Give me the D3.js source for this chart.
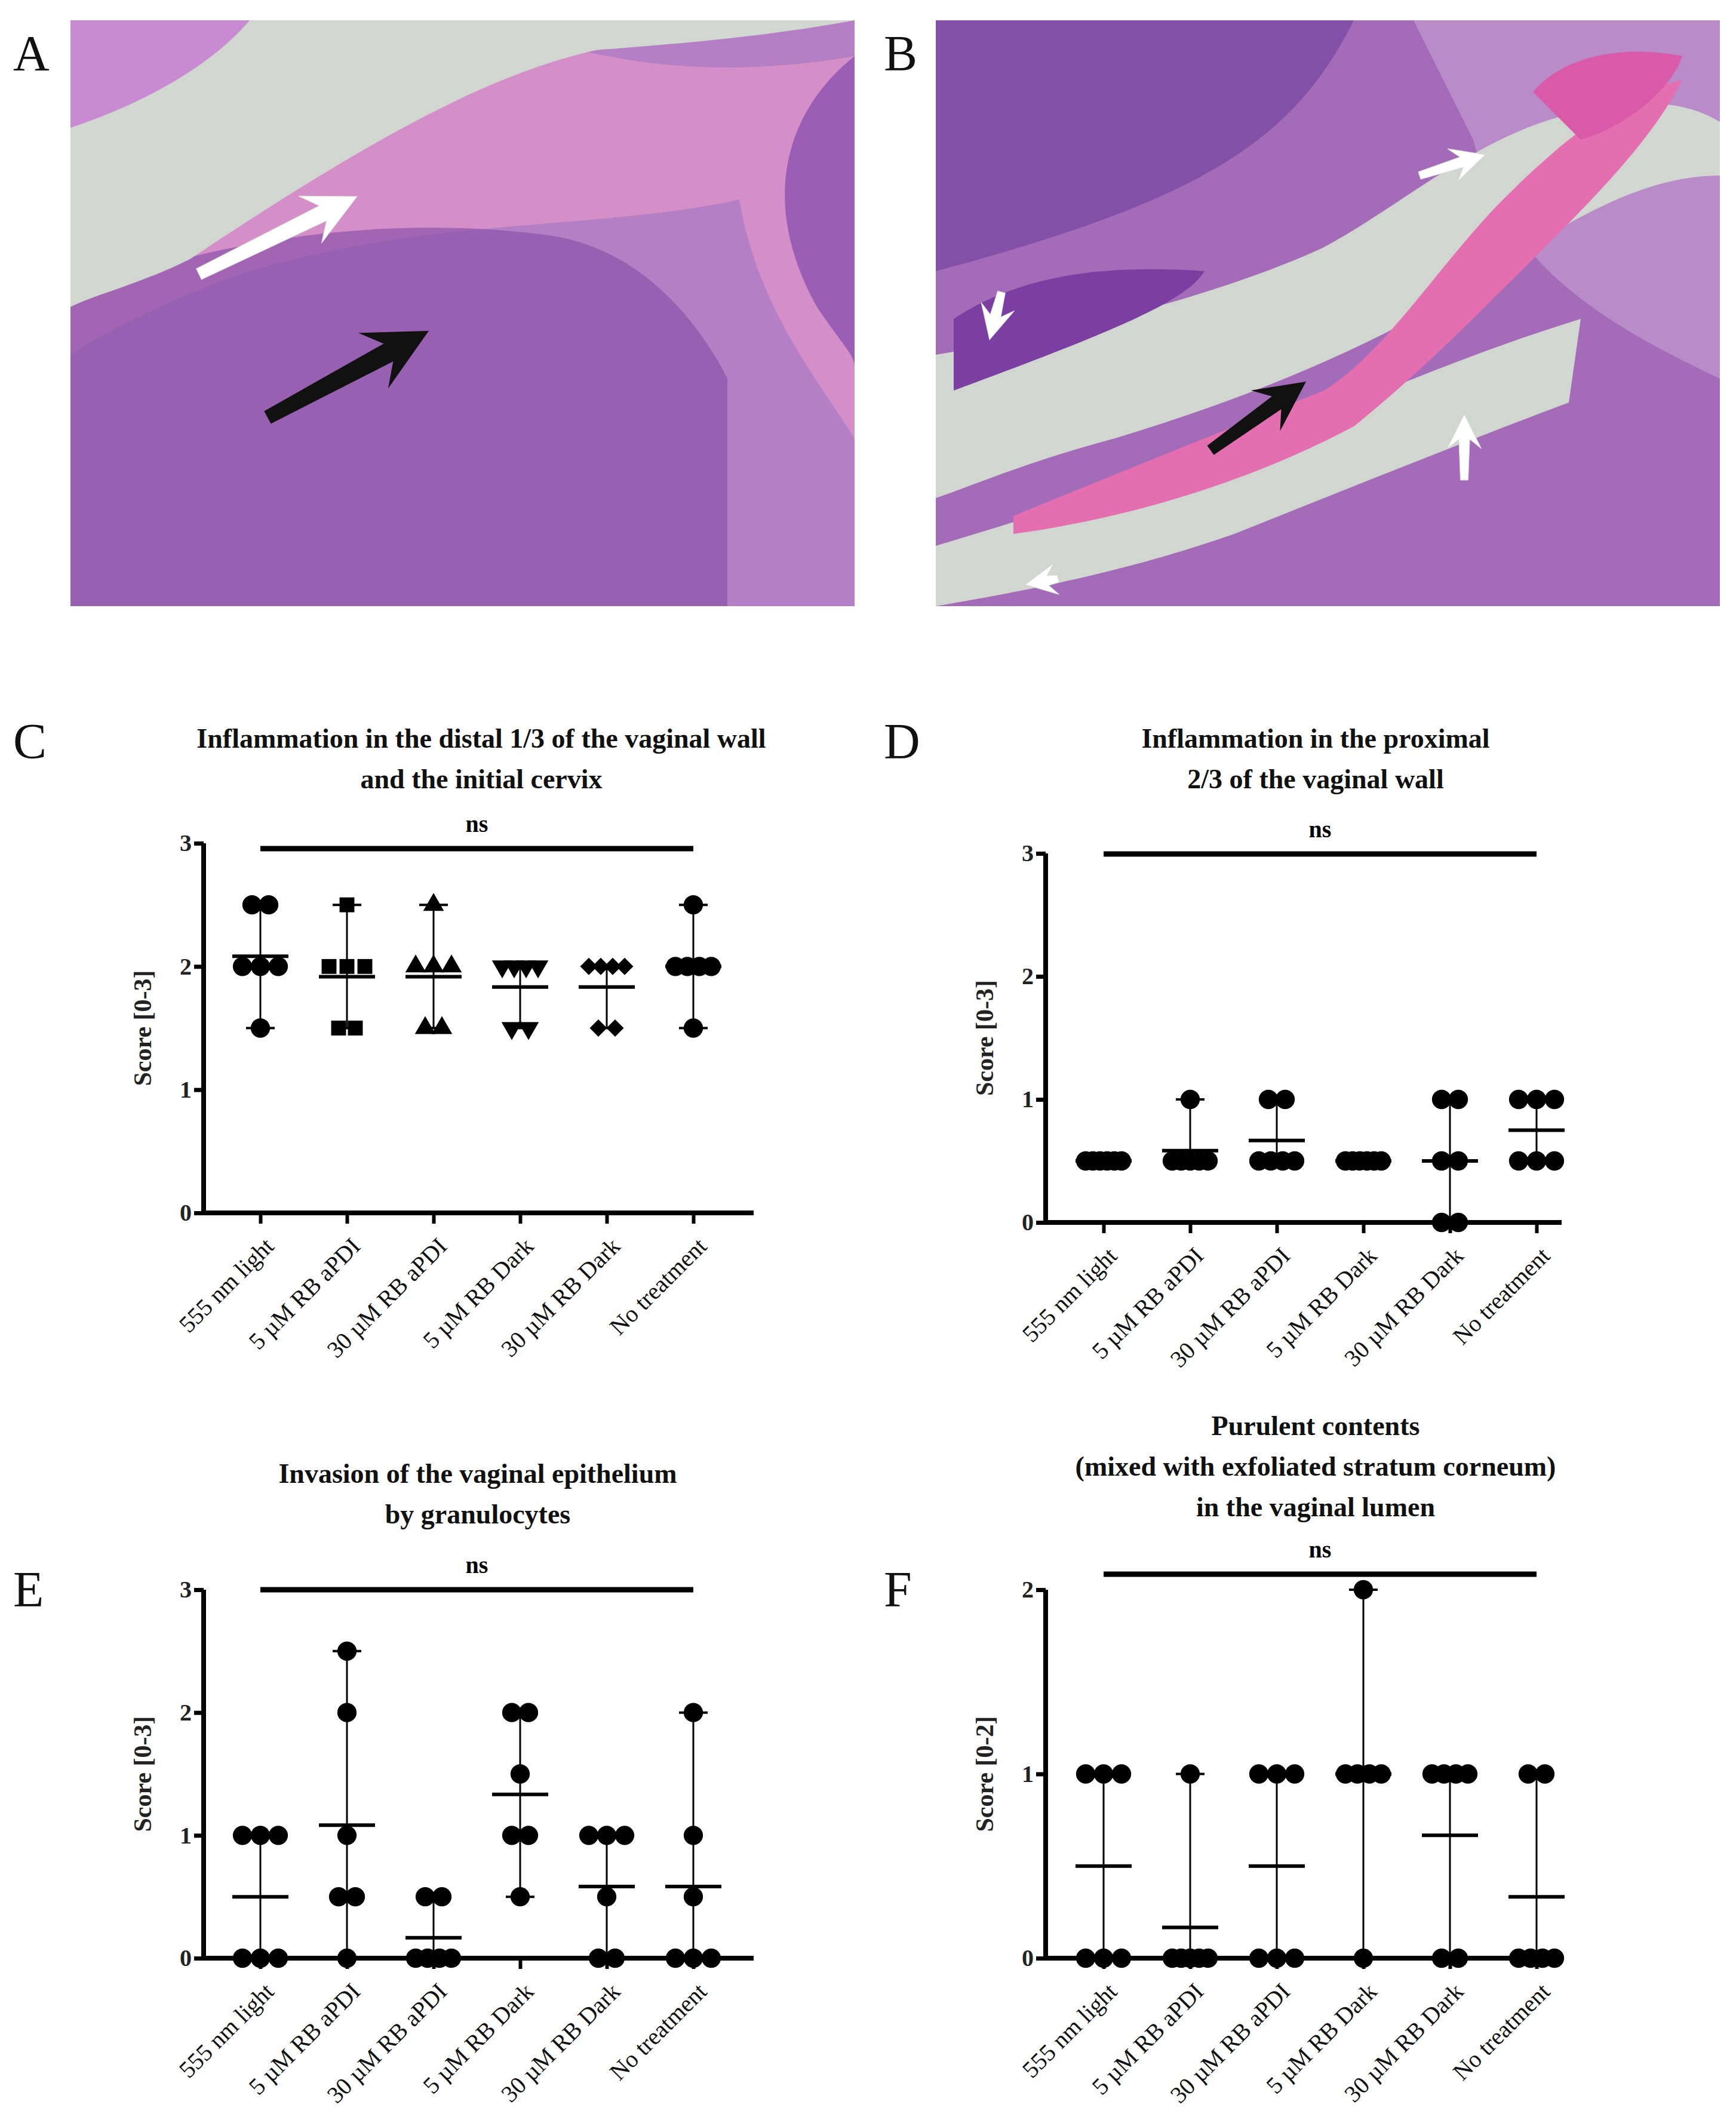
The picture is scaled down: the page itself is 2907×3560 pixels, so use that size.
<!DOCTYPE html>
<html><head><meta charset="utf-8">
<script src="https://cdn.jsdelivr.net/npm/d3@7"></script>
<style>body{margin:0;background:#fff}svg{display:block}</style>
</head><body>
<svg id="fig" width="2907" height="3560"></svg>
<script>
// Data
const groups = ["555 nm light", "5 µM RB aPDI", "30 µM RB aPDI", "5 µM RB Dark", "30 µM RB Dark", "No treatment"];
const shapesC = ["circle", "square", "triangle", "triangleDown", "diamond", "circle"];

const scoresC = [
  [2.5, 2.5, 2, 2, 2, 1.5],
  [2.5, 2, 2, 2, 1.5, 1.5],
  [2.5, 2, 2, 2, 1.5, 1.5],
  [2, 2, 2, 2, 1.5, 1.5],
  [2, 2, 2, 2, 1.5, 1.5],
  [2.5, 2, 2, 2, 2, 1.5]
];
const scoresD = [
  [0.5, 0.5, 0.5, 0.5, 0.5, 0.5],
  [1, 0.5, 0.5, 0.5, 0.5, 0.5],
  [1, 1, 0.5, 0.5, 0.5, 0.5],
  [0.5, 0.5, 0.5, 0.5, 0.5, 0.5],
  [1, 1, 0.5, 0.5, 0, 0],
  [1, 1, 1, 0.5, 0.5, 0.5]
];
const scoresE = [
  [1, 1, 1, 0, 0, 0],
  [2.5, 2, 1, 0.5, 0.5, 0],
  [0.5, 0.5, 0, 0, 0, 0],
  [2, 2, 1.5, 1, 1, 0.5],
  [1, 1, 1, 0.5, 0, 0],
  [2, 1, 0.5, 0, 0, 0]
];
const scoresF = [
  [1, 1, 1, 0, 0, 0],
  [1, 0, 0, 0, 0, 0],
  [1, 1, 1, 0, 0, 0],
  [2, 1, 1, 1, 1, 0],
  [1, 1, 1, 1, 0, 0],
  [1, 1, 0, 0, 0, 0]
];

const svg = d3.select("#fig");
const serif = "'Liberation Serif', 'DejaVu Serif', serif";

// ---- photo panels (drawn approximations) ----
function photo(x, y, w, h, id, draw) {
  const g = svg.append("g").attr("transform", `translate(${x},${y})`);
  g.append("clipPath").attr("id", id).append("rect").attr("width", w).attr("height", h);
  const c = g.append("g").attr("clip-path", `url(#${id})`);
  draw(c, w, h);
}
function arrow(g, x1, y1, x2, y2, fill, s) {
  const a = Math.atan2(y2 - y1, x2 - x1) * 180 / Math.PI;
  const L = Math.hypot(x2 - x1, y2 - y1);
  g.append("path")
    .attr("d", `M0,${-s*0.25} L${L - s*1.6},${-s*0.35} L${L - s*2.2},${-s*1.1} L${L},0 L${L - s*2.2},${s*1.1} L${L - s*1.6},${s*0.35} L0,${s*0.25}Z`)
    .attr("fill", fill).attr("stroke", fill === "#fff" ? "#ddd" : "none")
    .attr("transform", `translate(${x1},${y1}) rotate(${a})`);
}

photo(118, 34, 1313, 981, "cpA", (c, w, h) => {
  c.append("rect").attr("width", w).attr("height", h).attr("fill", "#a46bb8");
  c.append("path").attr("d", `M0,0 L${w},0 L${w},${h} L0,${h}Z`).attr("fill", "#b47fc4");
  c.append("path").attr("d", "M0,140 C200,60 500,-20 900,60 C1050,90 1200,80 1313,60 L1313,700 C1250,600 1150,480 1120,300 C900,350 600,330 300,420 C180,460 60,520 0,560Z").attr("fill", "#d58fc8");
  c.append("path").attr("d", "M0,460 C200,380 500,320 800,360 C950,380 1050,500 1100,600 L1100,981 L0,981Z").attr("fill", "#8a52aa").attr("opacity", 0.7);
  c.append("path").attr("d", "M0,0 L1313,0 L1313,0 C1150,30 1000,40 880,50 C700,90 500,200 200,400 C120,440 40,460 0,480Z").attr("fill", "#d2d6d1");
  c.append("path").attr("d", "M0,0 L300,0 C250,60 150,130 0,180Z").attr("fill", "#c88ad0");
  c.append("path").attr("d", "M1313,60 C1200,150 1150,300 1250,480 C1290,540 1313,560 1313,580Z").attr("fill", "#9a5fb4");
  arrow(c, 215, 425, 480, 295, "#fff", 40);
  arrow(c, 330, 665, 600, 520, "#111", 48);
});
photo(1567, 34, 1313, 981, "cpB", (c, w, h) => {
  c.append("rect").attr("width", w).attr("height", h).attr("fill", "#a46bb8");
  c.append("path").attr("d", "M0,0 L700,0 C600,200 450,300 0,420Z").attr("fill", "#8250a6");
  c.append("path").attr("d", "M800,0 L1313,0 L1313,600 C1100,500 950,400 900,200Z").attr("fill", "#b98bc8");
  c.append("path").attr("d", "M0,560 C250,520 500,450 650,380 C780,310 900,200 1050,160 C1150,130 1250,130 1313,170 L1313,260 C1150,260 1000,380 850,470 C700,560 500,640 300,700 C150,740 60,780 0,800Z").attr("fill", "#d2d6d1");
  c.append("path").attr("d", "M0,880 C200,820 450,740 700,640 C850,580 950,540 1080,500 L1060,640 C900,700 700,780 500,860 C300,930 120,960 0,981Z").attr("fill", "#d2d6d1");
  c.append("path").attr("d", "M130,830 C300,760 500,680 650,620 C750,560 850,400 950,300 C1050,200 1150,120 1250,100 C1200,200 1100,300 1000,400 C900,500 800,600 700,680 C550,760 350,830 130,860Z").attr("fill", "#e46fb0");
  c.append("path").attr("d", "M1000,120 C1050,60 1150,40 1250,60 C1230,120 1150,180 1080,200Z").attr("fill", "#d85aa8");
  c.append("path").attr("d", "M30,500 C150,420 300,410 450,420 C420,470 300,520 30,620Z").attr("fill", "#7b3fa2");
  arrow(c, 810, 260, 920, 225, "#fff", 26);
  arrow(c, 110, 455, 90, 535, "#fff", 26);
  arrow(c, 885, 770, 885, 660, "#fff", 26);
  arrow(c, 205, 935, 150, 945, "#fff", 24);
  arrow(c, 460, 720, 620, 605, "#111", 38);
});

// panel letters
const letters = [["A", 22, 118], ["B", 1480, 118], ["C", 22, 1270], ["D", 1480, 1270], ["E", 22, 2690], ["F", 1480, 2690]];
svg.selectAll("text.letter").data(letters).join("text").attr("class", "letter")
  .attr("x", d => d[1]).attr("y", d => d[2]).text(d => d[0])
  .attr("font-family", serif).attr("font-size", 84).attr("fill", "#111");

// ---- scatter charts ----
const symbolSize = { circle: 820, square: 620, triangle: 520, triangleDown: 520, diamond: 420 };
const symbolRot = { diamond: 45, triangleDown: 180 };
function symbolFor(name) {
  return { circle: d3.symbolCircle, square: d3.symbolSquare, triangle: d3.symbolTriangle,
    triangleDown: d3.symbolTriangle, diamond: d3.symbolSquare }[name];
}

function drawChart(cfg) {
  const g = svg.append("g");
  const x = d3.scalePoint().domain(groups).range([cfg.x0, cfg.x1]);
  const y = d3.scaleLinear().domain([0, cfg.yMax]).range([cfg.yBottom, cfg.yTop]);

  cfg.title.forEach((t, i) => g.append("text").attr("x", cfg.titleX).attr("y", cfg.titleY + i * 68)
    .attr("text-anchor", "middle").attr("font-family", serif).attr("font-weight", "bold")
    .attr("font-size", 46).attr("fill", "#111").text(t));

  // y axis
  const ya = g.append("g").attr("transform", `translate(${cfg.axisX},0)`)
    .call(d3.axisLeft(y).ticks(cfg.yMax).tickFormat(d3.format("d")).tickSize(16).tickPadding(4));
  ya.select(".domain").attr("stroke-width", 8).attr("d", `M0,${cfg.yBottom + 4}V${cfg.yTop}`);
  ya.selectAll(".tick line").attr("stroke-width", 7);
  ya.selectAll("text").attr("font-family", serif).attr("font-weight", "bold").attr("font-size", 40).attr("fill", "#222");

  // x axis
  const xa = g.append("g").attr("transform", `translate(0,${cfg.yBottom})`)
    .call(d3.axisBottom(x).tickSize(18).tickPadding(10));
  xa.select(".domain").attr("stroke-width", 8).attr("d", `M${cfg.axisX - 4},0H${cfg.xEnd}`);
  xa.selectAll(".tick line").attr("stroke-width", 6);
  xa.selectAll("text").attr("font-family", serif).attr("font-size", 40).attr("fill", "#111")
    .attr("text-anchor", "end").attr("dy", "0.3em").attr("transform", "translate(-4,30) rotate(-45)");

  g.append("text").attr("transform", `translate(${cfg.axisX - 88},${(cfg.yTop + cfg.yBottom) / 2}) rotate(-90)`)
    .attr("text-anchor", "middle").attr("font-family", serif).attr("font-weight", "bold")
    .attr("font-size", 42).attr("fill", "#222").text(cfg.yLabel);

  // significance bar
  g.append("line").attr("x1", x(groups[0])).attr("x2", x(groups[5]))
    .attr("y1", cfg.sigY).attr("y2", cfg.sigY).attr("stroke", "#000").attr("stroke-width", 9);
  g.append("text").attr("x", (x(groups[0]) + x(groups[5])) / 2).attr("y", cfg.sigY - 28)
    .attr("text-anchor", "middle").attr("font-family", serif).attr("font-weight", "bold")
    .attr("font-size", 40).text("ns");

  cfg.data.forEach((vals, i) => {
    const cx = x(groups[i]);
    const mean = d3.mean(vals), lo = d3.min(vals), hi = d3.max(vals);
    // range bar + caps
    g.append("line").attr("x1", cx).attr("x2", cx).attr("y1", y(lo)).attr("y2", y(hi))
      .attr("stroke", "#000").attr("stroke-width", 3);
    [lo, hi].forEach(v => g.append("line").attr("x1", cx - 24).attr("x2", cx + 24)
      .attr("y1", y(v)).attr("y2", y(v)).attr("stroke", "#000").attr("stroke-width", 4));
    // points, spread horizontally by tied values
    const counts = d3.rollup(vals, v => v.length, d => d);
    const seen = new Map();
    const shape = cfg.shapes[i];
    const sym = d3.symbol().type(symbolFor(shape)).size(symbolSize[shape]);
    vals.forEach(v => {
      const n = counts.get(v), k = seen.get(v) || 0;
      seen.set(v, k + 1);
      const step = n >= 3 ? 60 / (n - 1) : 28;
      const px = cx + (k - (n - 1) / 2) * step;
      g.append("path").attr("d", sym)
        .attr("transform", `translate(${px},${y(v)}) rotate(${symbolRot[shape] || 0})`)
        .attr("fill", "#000");
    });
    // mean line
    g.append("line").attr("x1", cx - 47).attr("x2", cx + 47).attr("y1", y(mean)).attr("y2", y(mean))
      .attr("stroke", "#000").attr("stroke-width", 6);
  });
}

drawChart({ data: scoresC, shapes: shapesC, yMax: 3, yLabel: "Score [0-3]",
  title: ["Inflammation in the distal 1/3 of the vaginal wall", "and the initial cervix"],
  titleX: 806, titleY: 1252, axisX: 341, x0: 436, x1: 1161, xEnd: 1262,
  yTop: 1412, yBottom: 2031, sigY: 1421 });
drawChart({ data: scoresD, shapes: Array(6).fill("circle"), yMax: 3, yLabel: "Score [0-3]",
  title: ["Inflammation in the proximal", "2/3 of the vaginal wall"],
  titleX: 2203, titleY: 1252, axisX: 1751, x0: 1848, x1: 2573, xEnd: 2615,
  yTop: 1429, yBottom: 2047, sigY: 1430 });
drawChart({ data: scoresE, shapes: Array(6).fill("circle"), yMax: 3, yLabel: "Score [0-3]",
  title: ["Invasion of the vaginal epithelium", "by granulocytes"],
  titleX: 800, titleY: 2483, axisX: 341, x0: 436, x1: 1161, xEnd: 1262,
  yTop: 2662, yBottom: 3279, sigY: 2662 });
drawChart({ data: scoresF, shapes: Array(6).fill("circle"), yMax: 2, yLabel: "Score [0-2]",
  title: ["Purulent contents", "(mixed with exfoliated stratum corneum)", "in the vaginal lumen"],
  titleX: 2203, titleY: 2403, axisX: 1751, x0: 1848, x1: 2573, xEnd: 2615,
  yTop: 2662, yBottom: 3279, sigY: 2636 });
</script>
</body></html>
